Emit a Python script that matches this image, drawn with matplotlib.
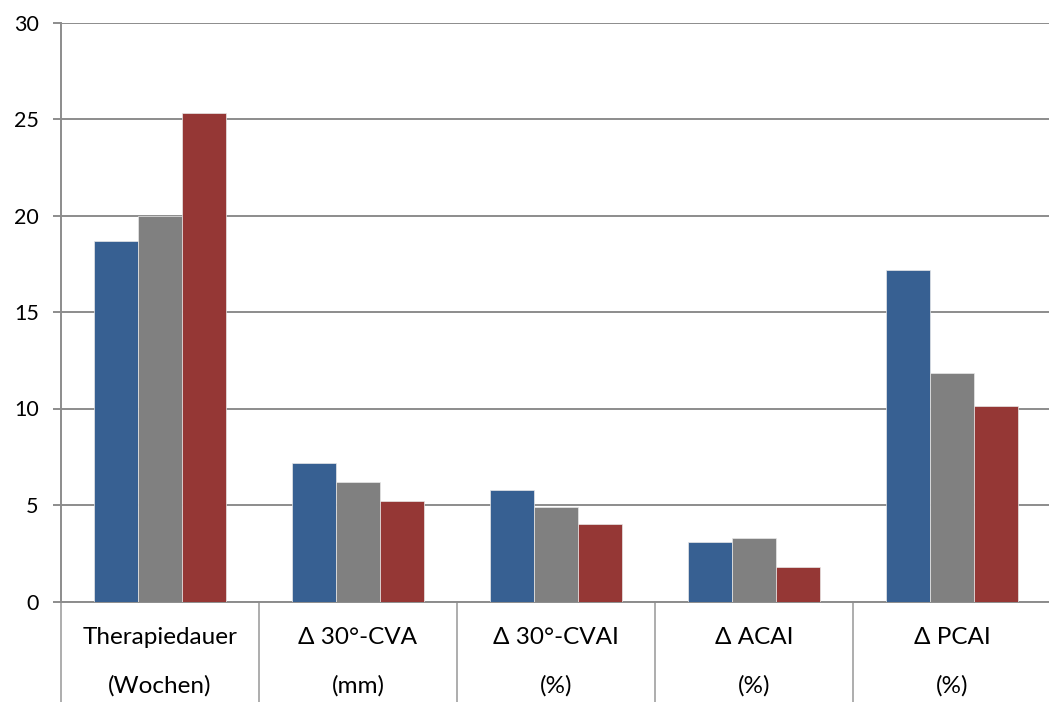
import matplotlib
matplotlib.use("Agg")
import matplotlib.pyplot as plt
import numpy as np

categories = ["Therapiedauer\n(Wochen)", "Δ 30°-CVA\n(mm)", "Δ 30°-CVAI\n(%)",
              "Δ ACAI\n(%)", "Δ PCAI\n(%)"]
series_a = [18.7, 7.2, 5.8, 3.1, 17.2]
series_b = [20.0, 6.2, 4.9, 3.3, 11.85]
series_c = [25.3, 5.2, 4.0, 1.8, 10.15]
yticks = [0, 5, 10, 15, 20, 25, 30]

colors = ["#376092", "#808080", "#953735"]
grid_color = "#8c8c8c"

plt.rcParams["font.family"] = ["Lato", "DejaVu Sans"]

W, H = 1049, 702
fig = plt.figure(figsize=(W / 100, H / 100), dpi=100)
ax = fig.add_axes([61 / W, (H - 601.5) / H, 990 / W, (601.5 - 22.5) / H])

x = np.arange(len(categories))
bw = 0.222
for i, (vals, c) in enumerate(zip([series_a, series_b, series_c], colors)):
    ax.bar(x + (i - 1) * bw, vals, width=bw, color=c, edgecolor="#e8e8e8",
           linewidth=0.5, zorder=3)

ax.set_xlim(-0.5, len(categories) - 0.5)
ax.set_ylim(0, 30)
ax.set_yticks(yticks)
ax.set_yticklabels([str(t) for t in yticks], fontsize=15.5)
ax.yaxis.grid(True, color=grid_color, linewidth=1.4, zorder=0)
ax.set_axisbelow(True)

for s in ["top", "right"]:
    ax.spines[s].set_visible(False)
for s in ["left", "bottom"]:
    ax.spines[s].set_color(grid_color)
    ax.spines[s].set_linewidth(1.4)

ax.tick_params(axis="y", length=6, width=1.4, color=grid_color, pad=10)

# category labels, with divider ticks between groups
ax.set_xticks(x)
ax.set_xticklabels(categories, fontsize=17.5, linespacing=2.6)
ax.tick_params(axis="x", which="major", length=0, pad=18)
ax.set_xticks(np.arange(-0.5, len(categories), 1.0), minor=True)
ax.tick_params(axis="x", which="minor", length=75, width=1.2, color="#a0a0a0")

fig.savefig("out.png", dpi=100)
